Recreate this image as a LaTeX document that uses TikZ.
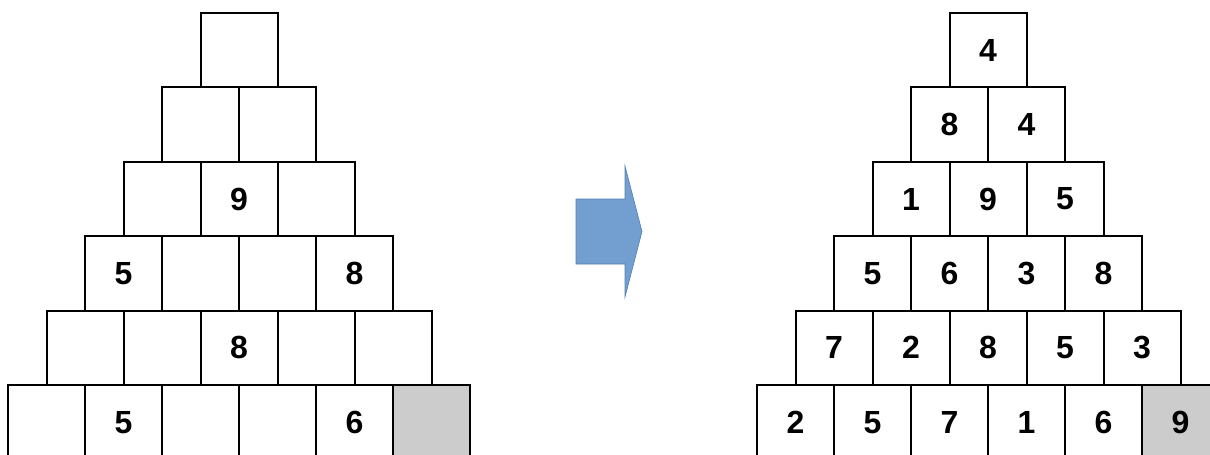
\documentclass[tikz,border=0pt]{standalone}
\usepackage{fontspec}
\setmainfont{Liberation Sans}
\definecolor{cellgray}{RGB}{204,204,204}
\definecolor{arrowfill}{RGB}{114,159,207}
\definecolor{arrowline}{RGB}{84,124,180}
\tikzset{
  cell/.style={draw=black, line width=2pt, minimum width=77pt, minimum height=74.4pt,
    inner sep=0pt, font=\fontsize{32}{38}\selectfont\bfseries},
  shaded/.style={fill=cellgray}
}
% #1 prefix, #2 x offset, #3 row, #4 list of values
\newcommand\pyrrow[4]{%
  \foreach \v [count=\i from 0] in {#4}{%
    \pgfmathsetmacro{\cx}{#2+8+(5-#3)*38.5+(\i+0.5)*77}%
    \pgfmathsetmacro{\cy}{13+(#3+0.5)*74.4}%
    \node[cell] (#1-#3-\i) at (\cx,\cy) {\v};
  }%
}
\begin{document}
\begin{tikzpicture}[x=1pt,y=-1pt]
\useasboundingbox (0,0) rectangle (1210,455);
\clip (0,0) rectangle (1210,455);
% left pyramid
\pyrrow{L}{0}{0}{{}}
\pyrrow{L}{0}{1}{{},{}}
\pyrrow{L}{0}{2}{{},9,{}}
\pyrrow{L}{0}{3}{5,{},{},8}
\pyrrow{L}{0}{4}{{},{},8,{},{}}
\pyrrow{L}{0}{5}{{},5,{},{},6}
\node[cell,shaded] (L-5-5) at (8+5.5*77,13+5.5*74.4) {};
% right pyramid
\pyrrow{R}{749}{0}{4}
\pyrrow{R}{749}{1}{8,4}
\pyrrow{R}{749}{2}{1,9,5}
\pyrrow{R}{749}{3}{5,6,3,8}
\pyrrow{R}{749}{4}{7,2,8,5,3}
\pyrrow{R}{749}{5}{2,5,7,1,6}
\node[cell,shaded] (R-5-5) at (749+8+5.5*77,13+5.5*74.4) {9};
% block arrow
\draw[fill=arrowfill, draw=arrowline, line width=0.6pt]
  (576,199) -- (625,199) -- (625,166) -- (642,231.5) -- (625,297) -- (625,264) -- (576,264) -- cycle;
\end{tikzpicture}
\end{document}
